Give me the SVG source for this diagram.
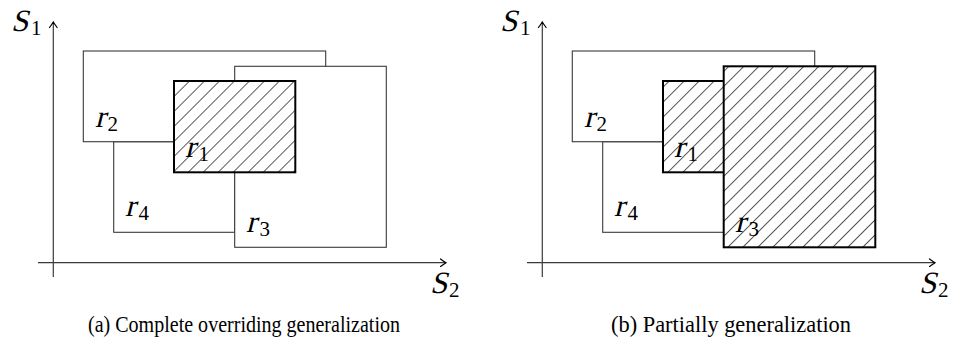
<svg xmlns="http://www.w3.org/2000/svg" width="955" height="354" viewBox="0 0 955 354">
<style>
.box{fill:#fff;stroke:#3a3a3a;stroke-width:1.1}
.hatch{fill:url(#nel);stroke:#000;stroke-width:2}
.axis{stroke:#3a3a3a;stroke-width:1.2;fill:none}
.m{font-family:"Liberation Serif","Times New Roman",serif;font-size:31px;fill:#000}
.s{font-family:"Liberation Serif","Times New Roman",serif;font-size:21px;fill:#000}
.cap{font-family:"Liberation Serif","Times New Roman",serif;font-size:23px;fill:#000}
</style>
<defs>
<pattern id="nel" patternUnits="userSpaceOnUse" width="10.6" height="10.6" patternTransform="rotate(45)">
<rect width="10.6" height="10.6" fill="#fff"/>
<line x1="0" y1="-1" x2="0" y2="12" stroke="#000" stroke-width="1.3"/>
</pattern>
<marker id="arr" markerUnits="userSpaceOnUse" markerWidth="12" markerHeight="12" refX="0" refY="0" viewBox="-7 -6 8 12" orient="auto" overflow="visible">
<path d="M-5.5,-3.8 Q-1.6,-0.9 0,0 Q-1.6,0.9 -5.5,3.8" fill="none" stroke="#000" stroke-width="1.2" stroke-linecap="round"/>
</marker>
</defs>

<g id="connectors">
<line class="axis" x1="53.3" y1="277" x2="53.3" y2="22" marker-end="url(#arr)"/>
<line class="axis" x1="38" y1="262.7" x2="446" y2="262.7" marker-end="url(#arr)"/>
<line class="axis" x1="542.3" y1="277" x2="542.3" y2="22" marker-end="url(#arr)"/>
<line class="axis" x1="527" y1="262.7" x2="935" y2="262.7" marker-end="url(#arr)"/>
</g>

<g id="panel-a">
<g id="a-r4"><rect class="box" x="113.7" y="141.7" width="121" height="90.6"/></g>
<g id="a-r2"><rect class="box" x="83.3" y="51" width="242.4" height="90.7"/></g>
<g id="a-r3"><rect class="box" x="234.7" y="66.3" width="151.6" height="181"/></g>
<g id="a-r1"><rect class="hatch" x="174" y="81" width="121.3" height="91.3"/></g>
<g id="a-labels">
<text class="m" transform="translate(11,31) skewX(-14)">S</text><text class="s" x="31" y="35">1</text>
<text class="m" transform="translate(430,293) skewX(-14)">S</text><text class="s" x="449" y="297">2</text>
<text class="m" transform="translate(95,127) skewX(-14)">r</text><text class="s" x="107.5" y="130.5">2</text>
<text class="m" transform="translate(185,157) skewX(-14)">r</text><text class="s" x="198.5" y="160.5">1</text>
<text class="m" transform="translate(125,216) skewX(-14)">r</text><text class="s" x="138.5" y="220">4</text>
<text class="m" transform="translate(246,232) skewX(-14)">r</text><text class="s" x="259.5" y="236">3</text>
</g>
<text class="cap" x="88" y="332" textLength="312" lengthAdjust="spacingAndGlyphs">(a) Complete overriding generalization</text>
</g>

<g id="panel-b">
<g id="b-r4"><rect class="box" x="602.7" y="141.7" width="121" height="90.6"/></g>
<g id="b-r2"><rect class="box" x="572.3" y="51" width="242.4" height="90.7"/></g>
<g id="b-r1"><rect class="hatch" x="663" y="81" width="121.3" height="91.3"/></g>
<g id="b-r3"><rect class="hatch" x="723.7" y="66.3" width="151.6" height="181"/></g>
<g id="b-labels">
<text class="m" transform="translate(500,31) skewX(-14)">S</text><text class="s" x="520" y="35">1</text>
<text class="m" transform="translate(919,293) skewX(-14)">S</text><text class="s" x="938" y="297">2</text>
<text class="m" transform="translate(584,127) skewX(-14)">r</text><text class="s" x="596.5" y="130.5">2</text>
<text class="m" transform="translate(674,157) skewX(-14)">r</text><text class="s" x="687.5" y="160.5">1</text>
<text class="m" transform="translate(614,216) skewX(-14)">r</text><text class="s" x="627.5" y="220">4</text>
<text class="m" transform="translate(735,232) skewX(-14)">r</text><text class="s" x="748.5" y="236">3</text>
</g>
<text class="cap" x="611" y="332" textLength="240" lengthAdjust="spacingAndGlyphs">(b) Partially generalization</text>
</g>
</svg>
